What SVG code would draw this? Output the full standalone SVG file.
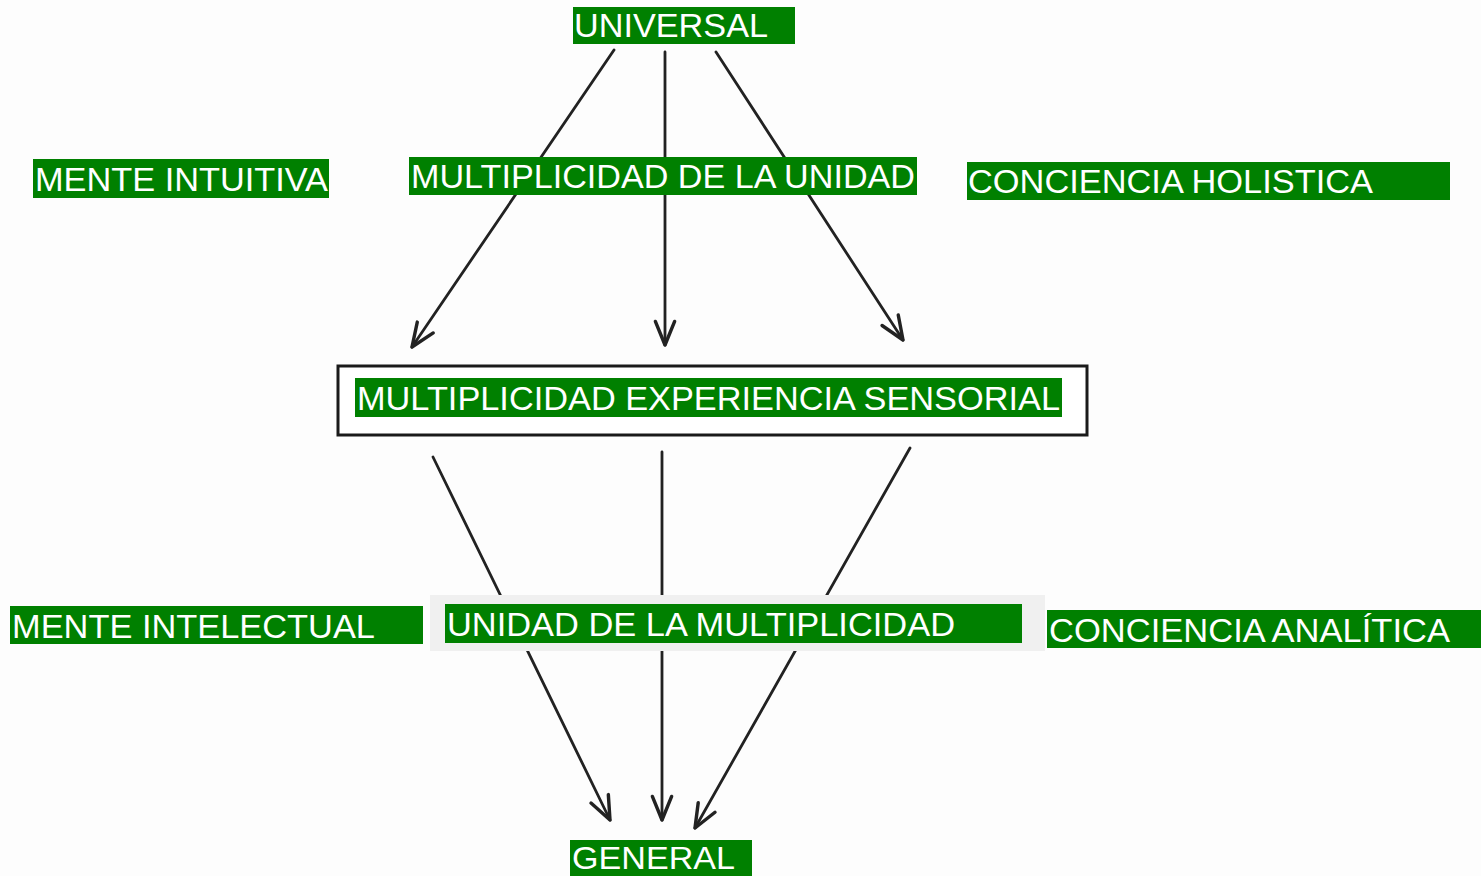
<svg xmlns="http://www.w3.org/2000/svg" width="1481" height="876" viewBox="0 0 1481 876">
<defs>
<style>
.bg{fill:#fdfdfd}
.g{fill:#008000}
.t{fill:#ffffff;font-family:"Liberation Sans",Arial,sans-serif;font-size:33px}
.c{stroke:#222;stroke-width:2.8;fill:none;stroke-linecap:round}
</style>
<marker id="ah" markerUnits="userSpaceOnUse" markerWidth="30" markerHeight="30" viewBox="-24 -12 28 24" refX="0" refY="0" orient="auto">
<path d="M -22 -9 L 0 0 L -22 9" fill="none" stroke="#222" stroke-width="3.2" stroke-linecap="round" stroke-linejoin="round"/>
</marker>
</defs>
<rect class="bg" x="0" y="0" width="1481" height="876"/>
<g id="connectors">
<line class="c" x1="614" y1="50" x2="412" y2="347" marker-end="url(#ah)"/>
<line class="c" x1="665" y1="52" x2="665" y2="345" marker-end="url(#ah)"/>
<line class="c" x1="716" y1="52" x2="903" y2="340" marker-end="url(#ah)"/>
<line class="c" x1="433" y1="457" x2="610" y2="820" marker-end="url(#ah)"/>
<line class="c" x1="662" y1="452" x2="662" y2="820" marker-end="url(#ah)"/>
<line class="c" x1="910" y1="448" x2="695" y2="828" marker-end="url(#ah)"/>
</g>
<g id="universal">
<rect class="g" x="573" y="7" width="222" height="37"/>
<text class="t" x="574" y="37" textLength="194" lengthAdjust="spacingAndGlyphs">UNIVERSAL</text>
</g>
<g id="mente-intuitiva">
<rect class="g" x="33" y="159" width="296" height="39"/>
<text class="t" x="35" y="191" textLength="293" lengthAdjust="spacingAndGlyphs">MENTE INTUITIVA</text>
</g>
<g id="multiplicidad-unidad">
<rect class="g" x="409" y="157" width="508" height="38"/>
<text class="t" x="411" y="188" textLength="504" lengthAdjust="spacingAndGlyphs">MULTIPLICIDAD DE LA UNIDAD</text>
</g>
<g id="conciencia-holistica">
<rect class="g" x="967" y="162" width="483" height="38"/>
<text class="t" x="968" y="193" textLength="405" lengthAdjust="spacingAndGlyphs">CONCIENCIA HOLISTICA</text>
</g>
<g id="experiencia-sensorial">
<rect x="338" y="366" width="749" height="69" fill="#ffffff" stroke="#1a1a1a" stroke-width="3"/>
<rect class="g" x="355" y="378" width="707" height="39"/>
<text class="t" x="357" y="410" textLength="703" lengthAdjust="spacingAndGlyphs">MULTIPLICIDAD EXPERIENCIA SENSORIAL</text>
</g>
<g id="mente-intelectual">
<rect class="g" x="10" y="606" width="413" height="38"/>
<text class="t" x="12" y="638" textLength="363" lengthAdjust="spacingAndGlyphs">MENTE INTELECTUAL</text>
</g>
<g id="unidad-multiplicidad">
<rect x="430" y="595" width="615" height="56" fill="#f0f0f0"/>
<rect class="g" x="445" y="604" width="577" height="39"/>
<text class="t" x="447" y="636" textLength="508" lengthAdjust="spacingAndGlyphs">UNIDAD DE LA MULTIPLICIDAD</text>
</g>
<g id="conciencia-analitica">
<rect class="g" x="1047" y="610" width="434" height="38"/>
<text class="t" x="1049" y="642" textLength="401" lengthAdjust="spacingAndGlyphs">CONCIENCIA ANALÍTICA</text>
</g>
<g id="general">
<rect class="g" x="570" y="840" width="182" height="36"/>
<text class="t" x="572" y="869" style="font-size:31px" textLength="163" lengthAdjust="spacingAndGlyphs">GENERAL</text>
</g>
</svg>
